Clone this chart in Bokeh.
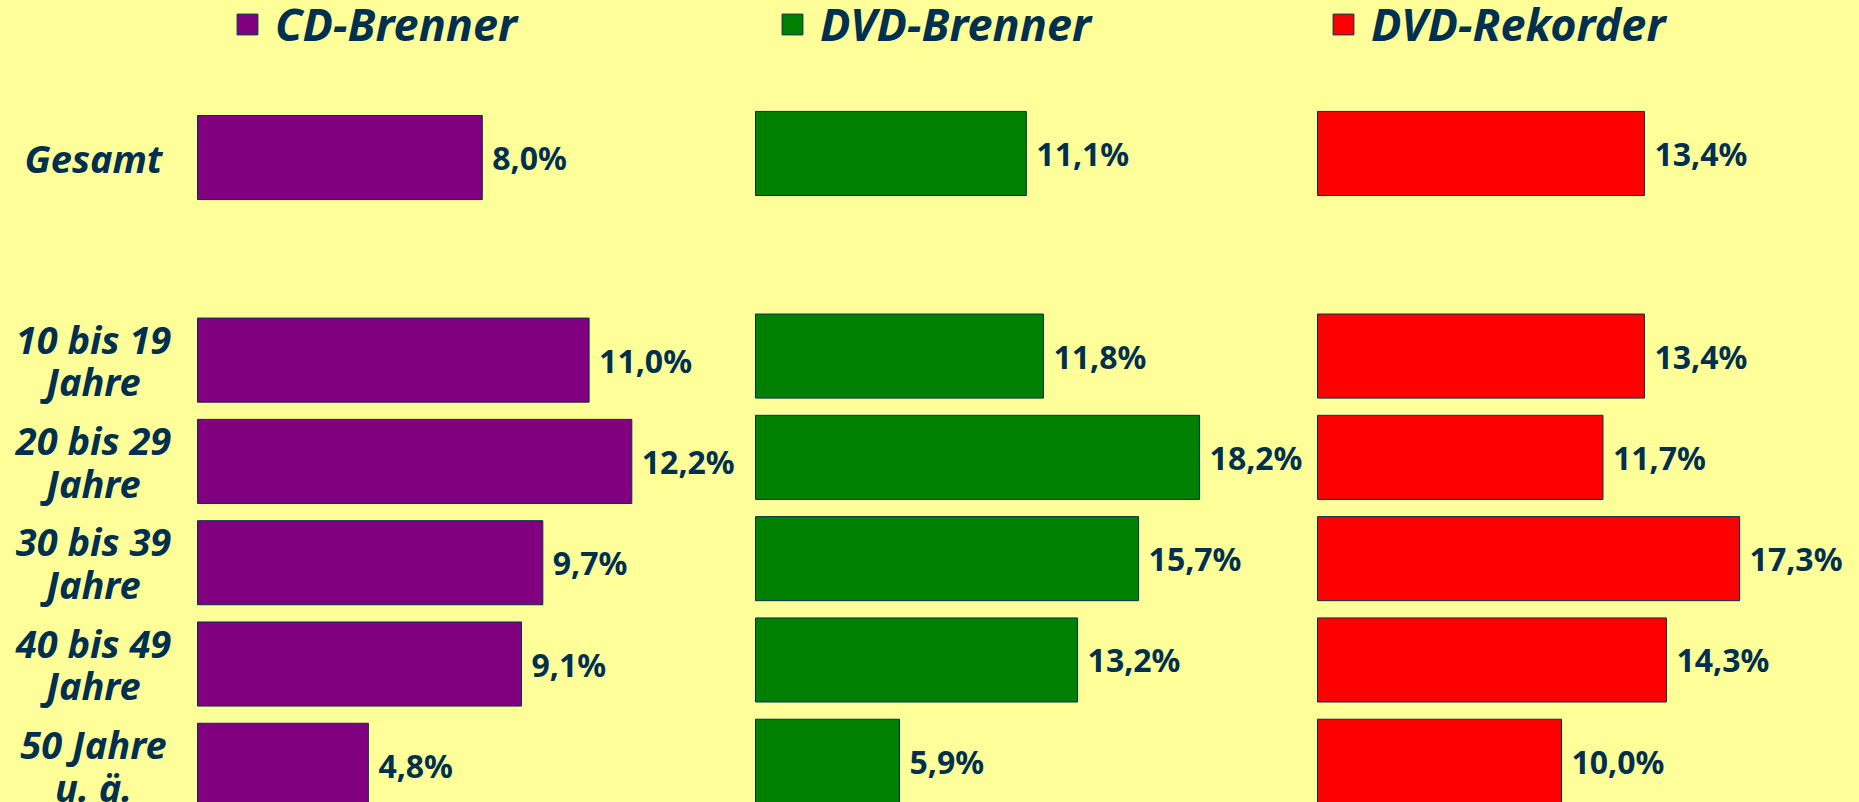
from bokeh.plotting import figure
from bokeh.layouts import row
from bokeh.models import (Range1d, ColumnDataSource, Legend, LegendItem,
                          GlobalInlineStyleSheet)
from bokeh.core.properties import value
from bokeh.embed import file_html
from bokeh.resources import INLINE

# ---------------- data ----------------
categories = ["Gesamt", "10 bis 19\nJahre", "20 bis 29\nJahre",
              "30 bis 39\nJahre", "40 bis 49\nJahre", "50 Jahre\nu. ä."]
cd_brenner = [8.0, 11.0, 12.2, 9.7, 9.1, 4.8]
dvd_brenner = [11.1, 11.8, 18.2, 15.7, 13.2, 5.9]
dvd_rekorder = [13.4, 13.4, 11.7, 17.3, 14.3, 10.0]
series_names = ["CD-Brenner", "DVD-Brenner", "DVD-Rekorder"]
series_colors = ["#800080", "#008000", "#FF0000"]

# ---------------- style ----------------
BG = "#FFFF99"
INK = "#003050"
FONT = "Noto Sans"
H = 802
SLOT = 101.3  # pixels per category slot

# Gesamt, then one empty slot, then the age groups
slots = [0] + [i + 1 for i in range(1, len(categories))]


def fmt(v):
    return f"{v:.1f}".replace(".", ",") + "%"


def panel(name, color, vals, width, zero_px, px_per_unit, y_top, legend_x,
          labels=False):
    x_start = -zero_px / px_per_unit
    x_end = x_start + width / px_per_unit
    p = figure(width=width, height=H,
               x_range=Range1d(x_start, x_end),
               y_range=Range1d(y_top + H / SLOT, y_top),
               output_backend="svg", toolbar_location=None,
               x_axis_location=None, y_axis_location=None,
               min_border=0, background_fill_color=BG,
               border_fill_color=BG, outline_line_color=None)
    p.xgrid.grid_line_color = None
    p.ygrid.grid_line_color = None
    src = ColumnDataSource(dict(y=slots, v=vals,
                                lbl=[fmt(v) for v in vals],
                                cat=categories))
    bars = p.hbar(y="y", left=0, right="v", height=0.83, source=src,
                  fill_color=color, line_color=INK, line_width=1)
    p.text(x="v", y="y", text="lbl", source=src, x_offset=10,
           text_align="left", text_baseline="middle",
           text_font=value(FONT), text_font_style="bold",
           text_font_size="32px", text_color=INK)
    if labels:
        p.text(x=0, y="y", text="cat", source=src, x_offset=-104,
               text_align="center", text_baseline="middle",
               text_font=value(FONT), text_font_style="bold italic",
               text_font_size="38px", text_color=INK,
               text_line_height=0.82)
    legend = Legend(items=[LegendItem(label=name, renderers=[bars])],
                    location=(legend_x, 748),
                    label_text_font=FONT,
                    label_text_font_style="bold italic",
                    label_text_font_size="45px",
                    label_text_color=INK,
                    glyph_width=26, glyph_height=26,
                    label_standoff=15, padding=0, margin=0,
                    background_fill_alpha=0, border_line_alpha=0)
    p.add_layout(legend)
    return p


p1 = panel(series_names[0], series_colors[0], cd_brenner,
           740, 197, 35.6, -1.550, 234, labels=True)
p2 = panel(series_names[1], series_colors[1], dvd_brenner,
           565, 15, 24.4, -1.510, 39)
p3 = panel(series_names[2], series_colors[2], dvd_rekorder,
           552, 12, 24.4, -1.510, 25)

layout = row(p1, p2, p3, spacing=0,
             stylesheets=[GlobalInlineStyleSheet(
                 css="html, body { background-color: #FFFF99; }")])

open("out.html", "w").write(file_html(layout, INLINE))
